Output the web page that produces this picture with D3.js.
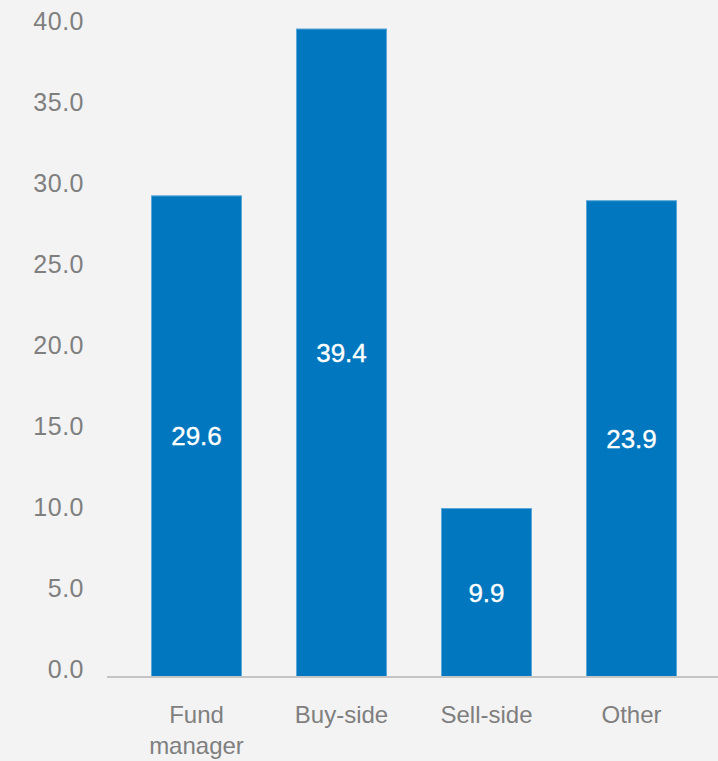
<!DOCTYPE html>
<html>
<head>
<meta charset="utf-8">
<script src="https://cdn.jsdelivr.net/npm/d3@7"></script>
<style>
  html, body { margin: 0; padding: 0; background: #f3f3f3; }
  svg { display: block; }
  text { font-family: "Liberation Sans", Arial, sans-serif; }
</style>
</head>
<body>
<svg id="chart" width="718" height="761"></svg>
<script>
const categories = [["Fund", "manager"], ["Buy-side"], ["Sell-side"], ["Other"]];
const categoryKeys = ["Fund manager", "Buy-side", "Sell-side", "Other"];
const barValues = [29.7, 40.0, 10.4, 29.4];
const valueLabels = ["29.6", "39.4", "9.9", "23.9"];
const yTicks = [0, 5, 10, 15, 20, 25, 30, 35, 40];

const svg = d3.select("#chart");
svg.append("rect").attr("width", 718).attr("height", 761).attr("fill", "#f3f3f3");

const y = d3.scaleLinear().domain([0, 40]).range([677, 29]);
const x = d3.scaleBand().domain(categoryKeys).range([124, 704])
  .paddingInner(0.3793).paddingOuter(0.1897);

// y axis labels
const yAxis = d3.axisLeft(y).tickValues(yTicks).tickFormat(d3.format(".1f")).tickSize(0).tickPadding(0);
const gy = svg.append("g").attr("transform", "translate(84,0)").call(yAxis);
gy.select(".domain").remove();
gy.selectAll("text")
  .attr("fill", "#7f7f7f")
  .attr("font-size", "25px")
  .attr("letter-spacing", "0.5px")
  .attr("dy", "0")
  .attr("font-family", "'Liberation Sans', Arial, sans-serif");

// bars
svg.append("g").selectAll("rect").data(categoryKeys).join("rect")
  .attr("x", d => x(d))
  .attr("width", x.bandwidth())
  .attr("y", (d, i) => y(barValues[i]))
  .attr("height", (d, i) => y(0) - y(barValues[i]))
  .attr("fill", "#0077be")
  .attr("stroke", "#5aa6d8")
  .attr("stroke-width", 1);

// value labels
svg.append("g").selectAll("text").data(categoryKeys).join("text")
  .attr("x", d => x(d) + x.bandwidth() / 2)
  .attr("y", (d, i) => (y(barValues[i]) + y(0)) / 2)
  .attr("text-anchor", "middle")
  .attr("dominant-baseline", "central")
  .attr("fill", "#ffffff")
  .attr("stroke", "#ffffff")
  .attr("stroke-width", 0.35)
  .attr("font-size", "26px")
  .text((d, i) => valueLabels[i]);

// x axis line
const xAxis = d3.axisBottom(x).tickSize(0).tickFormat("");
const gx = svg.append("g").attr("transform", `translate(0,${y(0)})`).call(xAxis);
gx.select(".domain").remove();
gx.append("line").attr("x1", 107).attr("x2", 718).attr("y1", 0).attr("y2", 0)
  .attr("stroke", "#c4c4c4").attr("stroke-width", 2);

// category labels
const catG = svg.append("g").selectAll("text").data(categoryKeys).join("text")
  .attr("text-anchor", "middle")
  .attr("fill", "#7f7f7f")
  .attr("font-size", "24px")
  .attr("x", d => x(d) + x.bandwidth() / 2)
  .attr("y", 723);
catG.each(function(d, i) {
  const t = d3.select(this);
  categories[i].forEach((line, j) => {
    t.append("tspan").attr("x", x(d) + x.bandwidth() / 2).attr("dy", j === 0 ? 0 : 31).text(line);
  });
});
</script>
</body>
</html>
